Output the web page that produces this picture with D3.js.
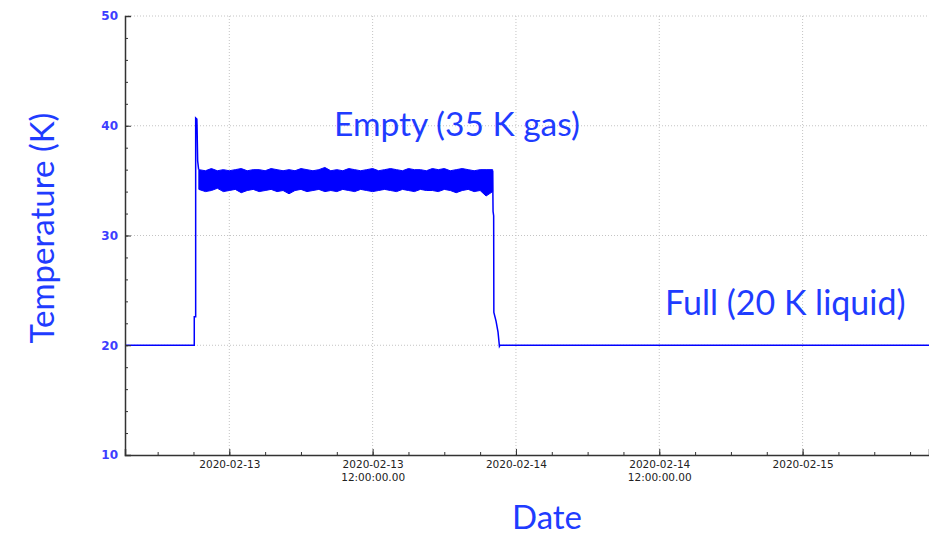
<!DOCTYPE html>
<html>
<head>
<meta charset="utf-8">
<script src="https://cdn.jsdelivr.net/npm/d3@7"></script>
<style>
  body { margin: 0; background: #fff; }
  svg { display: block; }
</style>
</head>
<body>
<svg class="chart"></svg>
<script>
var width = 929;
var height = 536;

// temperature trace (outside the noisy band)
var traceTimes = ['2020-02-12 15:16', '2020-02-12 21:04', '2020-02-12 21:04', '2020-02-12 21:11',
  '2020-02-12 21:11', '2020-02-12 21:17', '2020-02-12 21:18', '2020-02-12 21:21', '2020-02-12 21:26'];
var traceValues = [20.0, 20.0, 22.6, 22.6, 40.7, 40.6, 39.9, 36.8, 36.0];

var afterTimes = ['2020-02-13 22:03', '2020-02-13 22:05', '2020-02-13 22:08', '2020-02-13 22:09',
  '2020-02-13 22:20', '2020-02-13 22:30', '2020-02-13 22:37', '2020-02-13 22:40', '2020-02-15 11:00'];
var afterValues = [35.9, 32.2, 31.8, 23.0, 22.2, 21.2, 19.9, 20.0, 20.0];

// noisy "empty" band: hours from 2020-02-13 00:00, upper / lower envelope
var bandHours = [-2.55, -2.0, -1.5, -1.0, -0.5, 0.0, 0.5, 1.0, 1.5, 2.0, 2.5, 3.0, 3.5, 4.0, 4.5,
  5.0, 5.5, 6.0, 6.5, 7.0, 7.5, 8.0, 8.5, 9.0, 9.5, 10.0, 10.5, 11.0, 11.5, 12.0, 12.5, 13.0,
  13.5, 14.0, 14.5, 15.0, 15.5, 16.0, 16.5, 17.0, 17.5, 18.0, 18.5, 19.0, 19.5, 20.0, 20.5,
  21.0, 21.5, 22.05];
var bandHigh = [36.0, 35.9, 36.1, 35.9, 36.0, 35.9, 36.0, 36.1, 35.9, 36.0, 36.0, 35.9, 36.1,
  36.0, 35.9, 36.0, 35.9, 36.1, 36.0, 35.9, 36.0, 36.2, 35.9, 36.0, 35.9, 36.1, 36.0, 35.9,
  36.0, 36.1, 35.9, 36.0, 36.1, 36.0, 35.9, 36.1, 36.0, 36.0, 35.9, 36.1, 36.0, 36.1, 35.9,
  36.0, 36.1, 36.0, 35.9, 36.0, 36.0, 36.0];
var bandLow = [34.2, 34.0, 34.1, 34.3, 34.0, 34.1, 34.2, 33.9, 34.1, 34.2, 34.0, 34.1, 34.2,
  34.0, 34.1, 33.8, 34.1, 34.2, 34.0, 34.1, 34.2, 34.0, 34.1, 34.0, 34.2, 34.1, 34.0, 34.2,
  34.1, 34.0, 34.1, 34.2, 34.1, 34.0, 34.2, 34.1, 34.0, 34.2, 34.1, 34.1, 34.0, 34.2, 34.1,
  33.9, 34.1, 34.2, 34.0, 34.1, 33.6, 34.0];

// axis ticks
var xMajorTicks = ['2020-02-13 00:00', '2020-02-13 12:00', '2020-02-14 00:00', '2020-02-14 12:00', '2020-02-15 00:00'];
var xMajorLabels = [['2020-02-13'], ['2020-02-13', '12:00:00.00'], ['2020-02-14'], ['2020-02-14', '12:00:00.00'], ['2020-02-15']];
var yMajorTicks = [10, 20, 30, 40, 50];

var blue = '#0000ff';
var textBlue = '#1f3cff';

var parse = d3.timeParse('%Y-%m-%d %H:%M');
var t0 = parse('2020-02-13 00:00');

var chart = d3.select('.chart')
    .attr('width', width)
    .attr('height', height);

var margin = {'top': 16, 'right': 0, 'bottom': 81, 'left': 125};

var x = d3.scaleTime()
  .domain([parse('2020-02-12 15:16'), parse('2020-02-15 10:35')])
  .range([margin.left, width - margin.right]);

var y = d3.scaleLinear()
  .domain([10, 50])
  .range([height - margin.bottom, margin.top]);

var xMinor = d3.timeHour.every(3).range(x.domain()[0], x.domain()[1]);
var yMinor = d3.range(10, 51, 2);

// grid
var grid = chart.append('g').attr('stroke', '#c4c4c4').attr('stroke-dasharray', '1,2');
grid.selectAll('.gx')
  .data(xMajorTicks.map(parse))
  .join('line')
    .attr('x1', function(d){ return x(d); })
    .attr('x2', function(d){ return x(d); })
    .attr('y1', y(10))
    .attr('y2', y(50));
grid.selectAll('.gy')
  .data(yMajorTicks.slice(1))
  .join('line')
    .attr('x1', x.range()[0])
    .attr('x2', x.range()[1])
    .attr('y1', function(d){ return y(d); })
    .attr('y2', function(d){ return y(d); });

// band
var bandData = bandHours.map(function(h, i){
  return {'t': d3.timeMinute.offset(t0, Math.round(h * 60)), 'hi': bandHigh[i], 'lo': bandLow[i]};
});

var area = d3.area()
  .x(function(d){ return x(d.t); })
  .y0(function(d){ return y(d.lo); })
  .y1(function(d){ return y(d.hi); });

chart.append('path')
  .datum(bandData)
  .attr('d', area)
  .attr('fill', blue)
  .attr('stroke', blue)
  .attr('stroke-width', 1);

var line = d3.line()
  .x(function(d){ return x(d[0]); })
  .y(function(d){ return y(d[1]); });

[[traceTimes, traceValues], [afterTimes, afterValues]].forEach(function(s){
  chart.append('path')
    .datum(s[0].map(function(t, i){ return [parse(t), s[1][i]]; }))
    .attr('d', line)
    .attr('fill', 'none')
    .attr('stroke', blue)
    .attr('stroke-width', 1.5);
});

// axes
var xAxis = chart.append('g')
  .attr('transform', 'translate(0,' + y(10) + ')')
  .call(d3.axisBottom(x).tickValues(xMinor).tickSize(-3).tickFormat(''));
xAxis.select('.domain').remove();
xAxis.selectAll('line').attr('stroke', '#333');

var xMaj = chart.append('g')
  .attr('transform', 'translate(0,' + y(10) + ')')
  .call(d3.axisBottom(x).tickValues(xMajorTicks.map(parse)).tickSize(-6).tickFormat(''));
xMaj.selectAll('line').attr('stroke', '#333');
xMaj.select('.domain').attr('stroke', '#333').attr('stroke-width', 1.5);
xMaj.selectAll('.tick text').remove();
xMaj.selectAll('.tick')
  .append('text')
    .attr('fill', '#222')
    .style('font-family', 'DejaVu Sans')
    .style('font-size', '10.5px')
    .attr('text-anchor', 'middle')
    .selectAll('tspan')
    .data(function(d, i){ return xMajorLabels[i]; })
    .join('tspan')
      .attr('x', 0)
      .attr('y', function(d, i){ return 13 + i * 12.5; })
      .text(function(d){ return d; });

var yAxis = chart.append('g')
  .attr('transform', 'translate(' + margin.left + ',0)')
  .call(d3.axisLeft(y).tickValues(yMinor).tickSize(-3).tickFormat(''));
yAxis.select('.domain').remove();
yAxis.selectAll('line').attr('stroke', '#333');

var yMaj = chart.append('g')
  .attr('transform', 'translate(' + margin.left + ',0)')
  .call(d3.axisLeft(y).tickValues(yMajorTicks).tickSize(-6).tickPadding(7));
yMaj.select('.domain').attr('stroke', '#333').attr('stroke-width', 1.5);
yMaj.selectAll('line').attr('stroke', '#333');
yMaj.selectAll('text')
  .attr('fill', '#3d3dff')
  .style('font-family', 'DejaVu Sans')
  .style('font-size', '12px')
  .style('font-weight', 'bold');

// titles and notes
var bigFont = function(sel, size){
  return sel.attr('fill', textBlue).style('font-family', 'Lato').style('font-size', size + 'px');
};

bigFont(chart.append('text'), 33)
  .attr('x', 547).attr('y', 529)
  .attr('text-anchor', 'middle')
  .text('Date');

bigFont(chart.append('text'), 33)
  .attr('transform', 'translate(54,228) rotate(-90)')
  .attr('text-anchor', 'middle')
  .text('Temperature (K)');

bigFont(chart.append('text'), 33.5)
  .attr('x', 334).attr('y', 136)
  .text('Empty (35 K gas)');

bigFont(chart.append('text'), 34)
  .attr('x', 665).attr('y', 315)
  .text('Full (20 K liquid)');
</script>
</body>
</html>
